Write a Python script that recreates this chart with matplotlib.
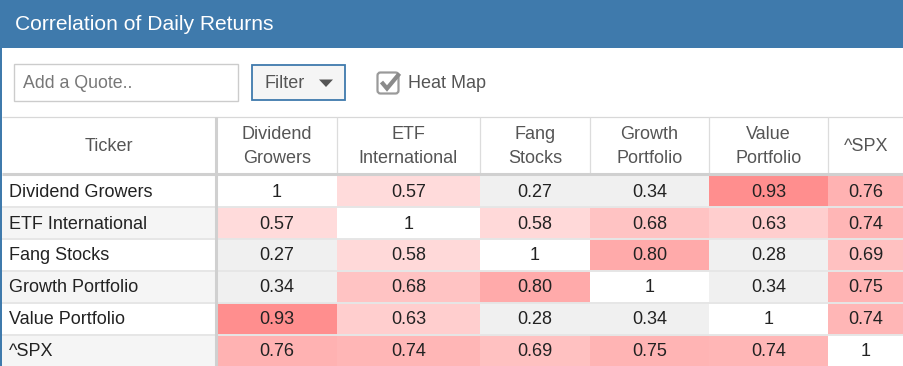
import numpy as np
import matplotlib
matplotlib.use("Agg")
import matplotlib.pyplot as plt
from matplotlib.patches import Rectangle, FancyBboxPatch, Polygon

# ---------------- data ----------------
tickers = ["Dividend Growers", "ETF International", "Fang Stocks",
           "Growth Portfolio", "Value Portfolio", "^SPX"]
col_headers = ["Dividend\nGrowers", "ETF\nInternational", "Fang\nStocks",
               "Growth\nPortfolio", "Value\nPortfolio", "^SPX"]
corr = np.array([
    [1.00, 0.57, 0.27, 0.34, 0.93, 0.76],
    [0.57, 1.00, 0.58, 0.68, 0.63, 0.74],
    [0.27, 0.58, 1.00, 0.80, 0.28, 0.69],
    [0.34, 0.68, 0.80, 1.00, 0.34, 0.75],
    [0.93, 0.63, 0.28, 0.34, 1.00, 0.74],
    [0.76, 0.74, 0.69, 0.75, 0.74, 1.00],
])
title = "Correlation of Daily Returns"

# ---------------- layout (pixels) ----------------
W, H = 904, 366
col_edges = [2, 216.5, 337, 480, 590, 709, 828, 904]
header_top = 116.5
row_edges = [175.5 + 31.8 * i for i in range(7)]
FS = 13

FONT = ["Liberation Sans", "DejaVu Sans"]
plt.rcParams["font.family"] = FONT

fig = plt.figure(figsize=(W / 100, H / 100), dpi=100)
ax = fig.add_axes([0, 0, 1, 1])
ax.set_xlim(0, W)
ax.set_ylim(H, 0)
ax.axis("off")

def cell_color(v, diag):
    if diag:
        return (1, 1, 1)
    if v < 0.5:
        return (0xf0 / 255, 0xf0 / 255, 0xf0 / 255)
    gb = 255 - (21 + 215 * (v - 0.5))
    return (1.0, gb / 255, gb / 255)

n = len(tickers)
rgb = np.array([[cell_color(corr[i, j], i == j) for j in range(n)] for i in range(n)])

# title bar
ax.add_patch(Rectangle((0, 0), W, 48, facecolor="#3f7aac", edgecolor="none"))
ax.add_patch(Rectangle((0, 0), 2, H, facecolor="#3f7aac", edgecolor="none"))
ax.text(15, 24, title, color="white", fontsize=15.1, va="center", ha="left")

# toolbar: input box
ax.add_patch(Rectangle((14.5, 63.5), 224, 37, facecolor="white",
                       edgecolor="#cccccc", lw=1.0))
ax.text(23, 83, "Add a Quote..", color="#777777", fontsize=12.8, va="center")
# filter button
ax.add_patch(Rectangle((252.5, 64.5), 93, 35, facecolor="#f5f5f5",
                       edgecolor="#3f7aac", lw=1.3))
ax.text(265, 83, "Filter", color="#555555", fontsize=13, va="center")
ax.add_patch(Polygon([(319, 79.5), (333, 79.5), (326, 87)], closed=True,
                     facecolor="#555555", edgecolor="none"))
# checkbox
ax.add_patch(FancyBboxPatch((377.5, 72.5), 21, 21,
                            boxstyle="round,pad=0,rounding_size=3",
                            facecolor="white", edgecolor="#9a9a9a", lw=1.6))
ax.plot([381.5, 387, 399.5], [82, 88.5, 73.5], color="#8a8a8a", lw=3.0,
        solid_capstyle="butt", solid_joinstyle="miter")
ax.text(408, 83, "Heat Map", color="#555555", fontsize=13, va="center")

# ticker column backgrounds (alternating)
for i in range(n):
    fc = "#f5f5f5" if i % 2 == 1 else "white"
    ax.add_patch(Rectangle((col_edges[0], row_edges[i]), col_edges[1] - col_edges[0],
                           row_edges[i + 1] - row_edges[i], facecolor=fc, edgecolor="none"))

# heat-map cells
X, Y = np.meshgrid(col_edges[1:], row_edges)
ax.pcolormesh(X, Y, rgb, shading="flat")

# grid lines
ax.hlines(header_top, col_edges[0], W, color="#d8d8d8", lw=0.9)
ax.vlines(col_edges[2:-1], header_top, row_edges[0] - 2, color="#dcdcdc", lw=0.9)
ax.hlines(row_edges[1:-1], col_edges[0], W, color="#e6e6e6", lw=1.4)
ax.hlines(row_edges[0] - 1.5, col_edges[0], W, color="#d0d0d0", lw=2.2)
ax.vlines(col_edges[1], header_top, H, color="#d0d0d0", lw=2.2)

# header texts
hdr_y = (header_top + row_edges[0] - 3) / 2 + 2
ax.text((col_edges[0] + col_edges[1]) / 2, hdr_y, "Ticker", color="#555555",
        fontsize=FS, ha="center", va="center")
for j, h in enumerate(col_headers):
    ax.text((col_edges[j + 1] + col_edges[j + 2]) / 2, hdr_y, h, color="#555555",
            fontsize=FS, ha="center", va="center", linespacing=1.55)

# row labels and values
for i in range(n):
    yc = (row_edges[i] + row_edges[i + 1]) / 2 + 1
    ax.text(9, yc, tickers[i], color="#222222", fontsize=FS, ha="left", va="center")
    for j in range(n):
        lab = "1" if i == j else f"{corr[i, j]:.2f}"
        ax.text((col_edges[j + 1] + col_edges[j + 2]) / 2, yc, lab, color="#222222",
                fontsize=FS, ha="center", va="center")

fig.savefig("out.png", dpi=100)
